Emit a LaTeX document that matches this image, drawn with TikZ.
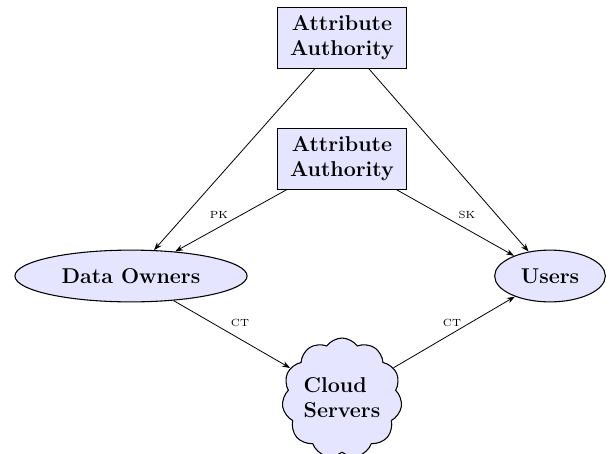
\documentclass[tikz,border=0pt]{standalone}
\usetikzlibrary{shapes.geometric,shapes.symbols,arrows.meta}
\begin{document}
\begin{tikzpicture}[x=0.56pt,y=-0.56pt,
  authbox/.style={draw,fill=blue!10,line width=0.6pt,align=center,font=\large\bfseries,
    minimum width=72pt,minimum height=34pt,inner sep=2pt},
  party/.style={draw,fill=blue!10,ellipse,line width=0.6pt,font=\large\bfseries,
    minimum height=29pt,inner sep=1pt},
  cloudnode/.style={draw,fill=blue!10,cloud,cloud puffs=11,cloud puff arc=110,aspect=1,
    line width=0.6pt,align=left,font=\large\bfseries,minimum width=62pt,minimum height=64pt,inner sep=0pt},
  conn/.style={-{Stealth[length=4.5pt,width=3.2pt]},line width=0.45pt},
  lbl/.style={font=\fontsize{5.8}{7}\selectfont,inner sep=0pt}]
\clip (0,0) rectangle (610,453);
\node[authbox] (aa1) at (342,38) {Attribute\\Authority};
\node[authbox] (aa2) at (342,159) {Attribute\\Authority};
\node[party,minimum width=130pt] (do) at (131,276) {Data Owners};
\node[party,minimum width=62pt] (us) at (550,276) {Users};
\node[cloudnode] (cs) at (342,398) {Cloud\\Servers};
\draw[conn] (aa1) -- (do);
\draw[conn] (aa1) -- (us);
\draw[conn] (aa2) -- (do);
\draw[conn] (aa2) -- (us);
\draw[conn] (do) -- (cs);
\draw[conn] (cs) -- (us);
\node[lbl] (pk) at (219,215) {PK};
\node[lbl] (sk) at (467,215) {SK};
\node[lbl] (ct1) at (240,323) {CT};
\node[lbl] (ct2) at (452,323) {CT};
\end{tikzpicture}
\end{document}
